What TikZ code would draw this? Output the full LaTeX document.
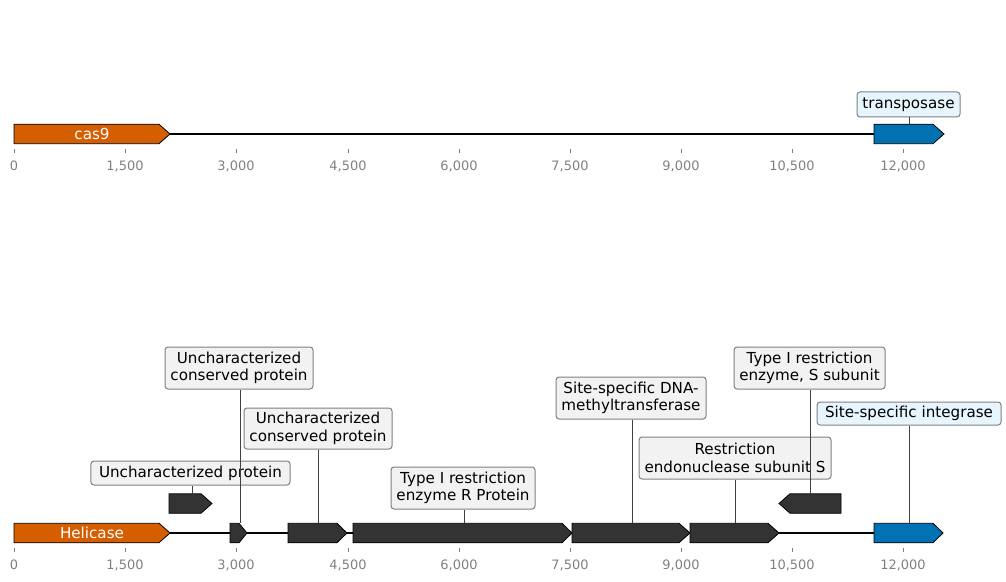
\documentclass[tikz,border=0pt]{standalone}
\usepackage{fontspec}
\setmainfont{DejaVu Sans}
\definecolor{orangef}{HTML}{D55E00}
\definecolor{bluef}{HTML}{0072B2}
\definecolor{darkf}{HTML}{333333}
\definecolor{boxgray}{HTML}{F2F2F2}
\definecolor{boxblue}{HTML}{E6F5FE}
\definecolor{edgegray}{HTML}{808080}
\definecolor{tickgray}{HTML}{808080}
\newcommand\fwdfeat[5]{% x1, x2, tip, yc, color
  \filldraw[feat, fill=#5] (#1,#4-9.75) -- (#2-#3,#4-9.75) -- (#2,#4) -- (#2-#3,#4+9.75) -- (#1,#4+9.75) -- cycle;}
\newcommand\revfeat[5]{% x1(tip), x2, tip, yc, color
  \filldraw[feat, fill=#5] (#2,#4-9.75) -- (#1+#3,#4-9.75) -- (#1,#4) -- (#1+#3,#4+9.75) -- (#2,#4+9.75) -- cycle;}
\tikzset{
  feat/.style={draw=black, line width=0.8bp, line join=miter},
  seqline/.style={draw=black, line width=1.5bp},
  lbl/.style={draw=edgegray, fill=boxgray, rounded corners=3bp, line width=1bp,
    inner sep=0pt, align=center, font=\fontsize{15.2}{17.5}\selectfont},
  lblblue/.style={lbl, fill=boxblue},
  conn/.style={draw=black!75, line width=0.8bp},
  tickmark/.style={draw=tickgray, line width=0.8bp},
  ticklbl/.style={text=tickgray, font=\fontsize{13}{15}\selectfont, inner sep=0pt},
  featlbl/.style={text=white, font=\fontsize{15.2}{17.5}\selectfont, inner sep=0pt}
}
\begin{document}
\begin{tikzpicture}[x=1bp,y=-1bp]
\useasboundingbox (0,0) rectangle (1006,582);
% ---------------- top track ----------------
\coordinate (ta) at (14,134);
\coordinate (tb) at (943,134);
\draw[seqline] (ta) -- (tb);
\fwdfeat{14}{170}{11}{134}{orangef}
\node[featlbl] (cas) at (92,134) {cas9};
\fwdfeat{874}{944}{11}{134}{bluef}
\coordinate (ttr) at (909,124.25);
\node[lblblue, minimum width=103bp, minimum height=25bp] (btr) at (908.5,104.5) {transposase};
\draw[conn] (btr.south -| ttr) -- (ttr);
\foreach \xx/\tl in {14/0,125/{1,500},236/{3,000},348/{4,500},459/{6,000},570/{7,500},681/{9,000},792/{10,500},903/{12,000}}{
  \draw[tickmark] (\xx,149) -- (\xx,153);
  \node[ticklbl] at (\xx,166) {\tl};
}
% ---------------- bottom track ----------------
\coordinate (ba) at (14,533);
\coordinate (bb) at (943,533);
\draw[seqline] (ba) -- (bb);
\fwdfeat{14}{170}{11}{533}{orangef}
\node[featlbl] (hel) at (92,533) {Helicase};
\fwdfeat{230}{247}{8}{533}{darkf}
\fwdfeat{288}{347}{10}{533}{darkf}
\fwdfeat{353}{572}{10}{533}{darkf}
\fwdfeat{572}{690}{11}{533}{darkf}
\fwdfeat{690}{779}{11}{533}{darkf}
\fwdfeat{874}{943}{10}{533}{bluef}
\fwdfeat{169}{212}{11}{503.5}{darkf}
\revfeat{779}{841}{11}{503.5}{darkf}
% feature tops
\coordinate (fup) at (192,493.75);
\coordinate (fa) at (240,523.25);
\coordinate (fb) at (318,523.25);
\coordinate (fc) at (464,523.25);
\coordinate (fd) at (632,523.25);
\coordinate (fe) at (735,523.25);
\coordinate (frv) at (810,493.75);
\coordinate (fint) at (909,523.25);
% label boxes
\node[lbl, minimum width=199bp, minimum height=24bp] (bup) at (190.5,473) {Uncharacterized protein};
\node[lbl, minimum width=148bp, minimum height=42bp] (ba1) at (239,368) {Uncharacterized\\conserved protein};
\node[lbl, minimum width=148bp, minimum height=41bp] (bb1) at (318,428.5) {Uncharacterized\\conserved protein};
\node[lbl, minimum width=144bp, minimum height=42bp] (bc1) at (463,488) {Type I restriction\\enzyme R Protein};
\node[lbl, minimum width=150bp, minimum height=42bp] (bd1) at (631,398) {Site-specific DNA-\\methyltransferase};
\node[lbl, minimum width=192bp, minimum height=42bp] (be1) at (735,458) {Restriction\\endonuclease subunit S};
\node[lbl, minimum width=151bp, minimum height=42bp] (brv) at (809.5,368) {Type I restriction\\enzyme, S subunit};
\node[lblblue, minimum width=184bp, minimum height=23bp] (bint) at (909,413.5) {Site-specific integrase};
% connectors
\draw[conn] (bup.south -| fup) -- (fup);
\draw[conn] (ba1.south -| fa) -- (fa);
\draw[conn] (bb1.south -| fb) -- (fb);
\draw[conn] (bc1.south -| fc) -- (fc);
\draw[conn] (bd1.south -| fd) -- (fd);
\draw[conn] (be1.south -| fe) -- (fe);
\draw[conn] (brv.south -| frv) -- (frv);
\draw[conn] (bint.south -| fint) -- (fint);
\foreach \xx/\tl in {14/0,125/{1,500},236/{3,000},348/{4,500},459/{6,000},570/{7,500},681/{9,000},792/{10,500},903/{12,000}}{
  \draw[tickmark] (\xx,548) -- (\xx,552);
  \node[ticklbl] at (\xx,565) {\tl};
}
\end{tikzpicture}
\end{document}
